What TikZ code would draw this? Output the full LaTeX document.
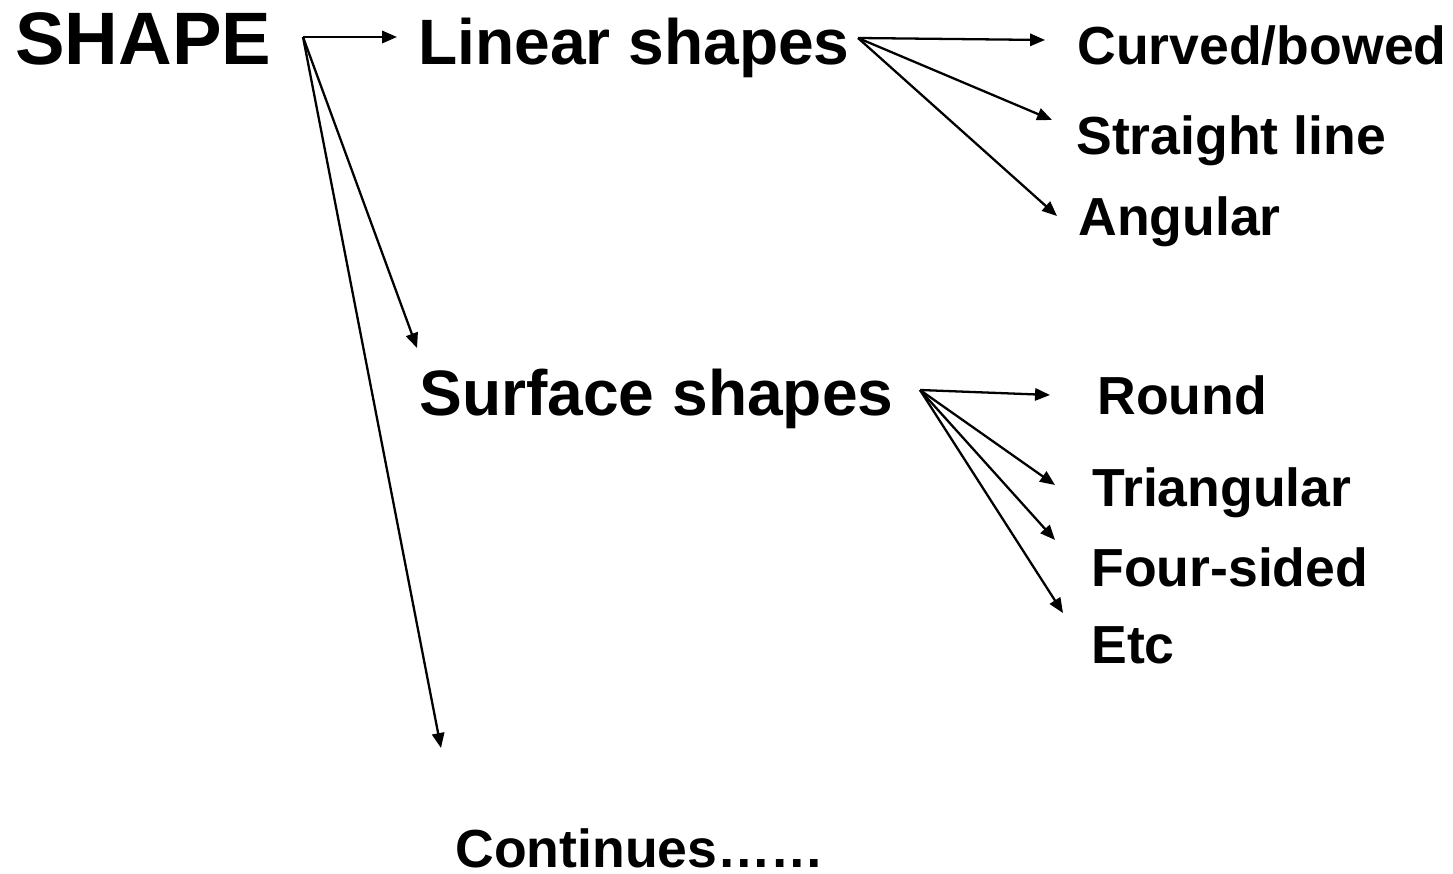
\documentclass[tikz,border=0pt]{standalone}
\usepackage{fontspec}
\setmainfont{Liberation Sans}
\usetikzlibrary{arrows.meta}
\tikzset{
  toplbl/.style={anchor=base west, inner sep=0pt, font=\bfseries\fontsize{42.3}{48}\selectfont},
  midlbl/.style={anchor=base west, inner sep=0pt, font=\bfseries\fontsize{36.5}{42}\selectfont},
  leaflbl/.style={anchor=base west, inner sep=0pt, font=\bfseries\fontsize{30.5}{36}\selectfont},
  arr/.style={line width=1.3pt, -{Triangle[length=8.5pt,width=7pt]}}
}
\begin{document}
\begin{tikzpicture}[x=0.02cm,y=-0.02cm]
  \useasboundingbox (0,0) rectangle (1453,874);
  % labels
  \node[toplbl] (shape) at (15,65) {SHAPE};
  \node[midlbl] (linear) at (418,65) {Linear shapes};
  \node[midlbl] (surface) at (419,416) {Surface shapes};
  \node[leaflbl] (curved) at (1077,65) {Curved/bowed};
  \node[leaflbl] (straight) at (1076,155) {Straight line};
  \node[leaflbl] (angular) at (1078,236) {Angular};
  \node[leaflbl] (round) at (1097,415) {Round};
  \node[leaflbl] (tri) at (1092,506) {Triangular};
  \node[leaflbl] (four) at (1091,586) {Four-sided};
  \node[leaflbl] (etc) at (1091,663) {Etc};
  \node[leaflbl] (cont) at (455,867) {Continues……};
  % fork points and arrow ends
  \coordinate (shapefork) at (303,37);
  \coordinate (linfork) at (858,38);
  \coordinate (surffork) at (920,390);
  \coordinate (tolinear) at (397,37);
  \coordinate (tosurface) at (417,348);
  \coordinate (tocont) at (441,748);
  \coordinate (tocurved) at (1045,40);
  \coordinate (tostraight) at (1052,120);
  \coordinate (toangular) at (1057,216);
  \coordinate (toround) at (1050,395);
  \coordinate (totri) at (1055,485);
  \coordinate (tofour) at (1055,540);
  \coordinate (toetc) at (1063,613);
  % arrows
  \draw[arr] (shapefork) -- (tolinear);
  \draw[arr] (shapefork) -- (tosurface);
  \draw[arr] (shapefork) -- (tocont);
  \draw[arr] (linfork) -- (tocurved);
  \draw[arr] (linfork) -- (tostraight);
  \draw[arr] (linfork) -- (toangular);
  \draw[arr] (surffork) -- (toround);
  \draw[arr] (surffork) -- (totri);
  \draw[arr] (surffork) -- (tofour);
  \draw[arr] (surffork) -- (toetc);
\end{tikzpicture}
\end{document}
